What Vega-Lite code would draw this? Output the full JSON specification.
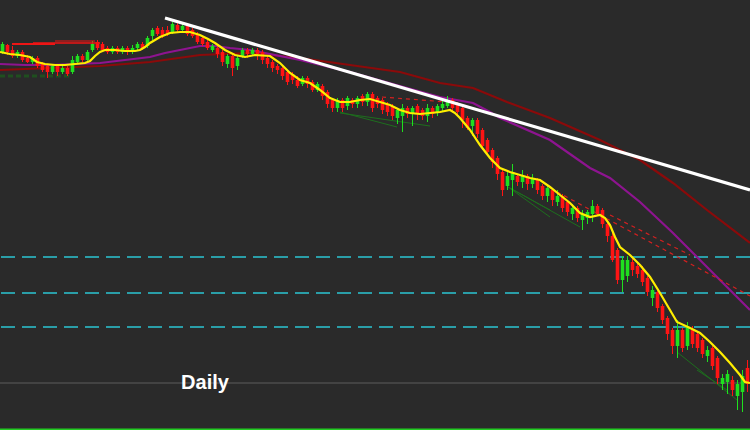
{
"$schema":"https://vega.github.io/schema/vega-lite/v6.json",
"width":750,"height":430,"padding":0,
"autosize":"none",
"background":"#2a2a2a",
"config":{"view":{"stroke":null},"scale":{"continuousPadding":0}},
"datasets":{
"candles":[
{"t":0.5,"o":378,"c":386,"h":388,"l":376},{"t":1.5,"o":385,"c":378,"h":386,"l":375},{"t":2.5,"o":380,"c":374,"h":384,"l":372},{"t":3.5,"o":374,"c":378,"h":380,"l":372},{"t":4.5,"o":378,"c":370,"h":380,"l":368},
{"t":5.5,"o":372,"c":368,"h":375,"l":367},{"t":6.5,"o":368,"c":372,"h":374,"l":366},{"t":7.5,"o":372,"c":364,"h":374,"l":362},{"t":8.5,"o":366,"c":360,"h":368,"l":358},{"t":9.5,"o":364,"c":358,"h":366,"l":352},
{"t":10.5,"o":358,"c":364,"h":366,"l":356},{"t":11.5,"o":364,"c":358,"h":366,"l":354},{"t":12.5,"o":358,"c":362,"h":364,"l":356},{"t":13.5,"o":362,"c":356,"h":364,"l":354},{"t":14.5,"o":358,"c":370,"h":374,"l":356},
{"t":15.5,"o":368,"c":374,"h":376,"l":366},{"t":16.5,"o":374,"c":370,"h":376,"l":368},{"t":17.5,"o":370,"c":378,"h":380,"l":368},{"t":18.5,"o":380,"c":386,"h":389,"l":378},{"t":19.5,"o":388,"c":382,"h":390,"l":380},
{"t":20.5,"o":386,"c":380,"h":388,"l":378},{"t":21.5,"o":382,"c":378,"h":384,"l":376},{"t":22.5,"o":378,"c":382,"h":384,"l":376},{"t":23.5,"o":382,"c":378,"h":384,"l":376},{"t":24.5,"o":378,"c":382,"h":384,"l":376},
{"t":25.5,"o":382,"c":378,"h":384,"l":375},{"t":26.5,"o":378,"c":382,"h":385,"l":376},{"t":27.5,"o":382,"c":386,"h":388,"l":380},{"t":28.5,"o":386,"c":382,"h":388,"l":380},{"t":29.5,"o":384,"c":392,"h":394,"l":382},
{"t":30.5,"o":394,"c":400,"h":402,"l":390},{"t":31.5,"o":402,"c":396,"h":404,"l":394},{"t":32.5,"o":400,"c":394,"h":403,"l":392},{"t":33.5,"o":400,"c":396,"h":404,"l":394},{"t":34.5,"o":398,"c":406,"h":408,"l":396},
{"t":35.5,"o":405,"c":400,"h":408,"l":398},{"t":36.5,"o":400,"c":404,"h":408,"l":398},{"t":37.5,"o":404,"c":396,"h":406,"l":394},{"t":38.5,"o":400,"c":394,"h":402,"l":392},{"t":39.5,"o":396,"c":388,"h":398,"l":386},
{"t":40.5,"o":392,"c":386,"h":394,"l":384},{"t":41.5,"o":388,"c":382,"h":390,"l":380},{"t":42.5,"o":380,"c":384,"h":386,"l":378},{"t":43.5,"o":382,"c":376,"h":384,"l":372},{"t":44.5,"o":378,"c":368,"h":380,"l":364},
{"t":45.5,"o":366,"c":374,"h":376,"l":362},{"t":46.5,"o":374,"c":362,"h":376,"l":354},{"t":47.5,"o":364,"c":372,"h":374,"l":360},{"t":48.5,"o":374,"c":380,"h":382,"l":372},{"t":49.5,"o":380,"c":376,"h":382,"l":372},
{"t":50.5,"o":376,"c":380,"h":382,"l":374},{"t":51.5,"o":380,"c":376,"h":382,"l":370},{"t":52.5,"o":378,"c":370,"h":380,"l":366},{"t":53.5,"o":372,"c":366,"h":374,"l":362},{"t":54.5,"o":368,"c":362,"h":370,"l":358},
{"t":55.5,"o":364,"c":360,"h":366,"l":356},{"t":56.5,"o":362,"c":354,"h":364,"l":350},{"t":57.5,"o":358,"c":348,"h":360,"l":345},{"t":58.5,"o":356,"c":350,"h":358,"l":346},{"t":59.5,"o":350,"c":344,"h":354,"l":342},
{"t":60.5,"o":346,"c":352,"h":354,"l":344},{"t":61.5,"o":352,"c":346,"h":354,"l":342},{"t":62.5,"o":348,"c":340,"h":350,"l":338},{"t":63.5,"o":340,"c":346,"h":348,"l":338},{"t":64.5,"o":344,"c":334,"h":346,"l":330},
{"t":65.5,"o":338,"c":326,"h":340,"l":322},{"t":66.5,"o":330,"c":322,"h":332,"l":318},{"t":67.5,"o":322,"c":330,"h":332,"l":318},{"t":68.5,"o":330,"c":322,"h":332,"l":318},{"t":69.5,"o":324,"c":332,"h":334,"l":320},
{"t":70.5,"o":330,"c":326,"h":332,"l":322},{"t":71.5,"o":326,"c":332,"h":334,"l":322},{"t":72.5,"o":334,"c":328,"h":336,"l":324},{"t":73.5,"o":328,"c":336,"h":338,"l":324},{"t":74.5,"o":336,"c":322,"h":338,"l":318},
{"t":75.5,"o":332,"c":326,"h":334,"l":322},{"t":76.5,"o":330,"c":320,"h":332,"l":316},{"t":77.5,"o":326,"c":318,"h":328,"l":314},{"t":78.5,"o":324,"c":314,"h":326,"l":310},{"t":79.5,"o":312,"c":320,"h":322,"l":306},
{"t":80.5,"o":314,"c":322,"h":326,"l":298},{"t":81.5,"o":322,"c":316,"h":324,"l":312},{"t":82.5,"o":316,"c":322,"h":324,"l":304},{"t":83.5,"o":324,"c":316,"h":326,"l":310},{"t":84.5,"o":320,"c":314,"h":322,"l":310},
{"t":85.5,"o":314,"c":322,"h":326,"l":308},{"t":86.5,"o":322,"c":316,"h":324,"l":312},{"t":87.5,"o":318,"c":324,"h":326,"l":314},{"t":88.5,"o":322,"c":326,"h":330,"l":318},{"t":89.5,"o":324,"c":330,"h":334,"l":322},
{"t":90.5,"o":330,"c":322,"h":332,"l":318},{"t":91.5,"o":326,"c":318,"h":328,"l":314},{"t":92.5,"o":322,"c":310,"h":324,"l":302},{"t":93.5,"o":312,"c":302,"h":314,"l":300},{"t":94.5,"o":304,"c":310,"h":312,"l":294},
{"t":95.5,"o":310,"c":296,"h":312,"l":292},{"t":96.5,"o":300,"c":284,"h":302,"l":280},{"t":97.5,"o":290,"c":278,"h":292,"l":274},{"t":98.5,"o":280,"c":268,"h":282,"l":262},{"t":99.5,"o":272,"c":256,"h":274,"l":250},
{"t":100.5,"o":258,"c":240,"h":260,"l":234},{"t":101.5,"o":244,"c":254,"h":258,"l":240},{"t":102.5,"o":250,"c":258,"h":266,"l":234},{"t":103.5,"o":254,"c":248,"h":256,"l":244},{"t":104.5,"o":248,"c":254,"h":260,"l":242},
{"t":105.5,"o":254,"c":246,"h":256,"l":240},{"t":106.5,"o":246,"c":252,"h":256,"l":242},{"t":107.5,"o":250,"c":240,"h":252,"l":236},{"t":108.5,"o":244,"c":234,"h":246,"l":230},{"t":109.5,"o":234,"c":242,"h":246,"l":228},
{"t":110.5,"o":240,"c":230,"h":242,"l":224},{"t":111.5,"o":228,"c":234,"h":240,"l":224},{"t":112.5,"o":234,"c":222,"h":236,"l":218},{"t":113.5,"o":228,"c":218,"h":230,"l":214},{"t":114.5,"o":216,"c":222,"h":226,"l":210},
{"t":115.5,"o":222,"c":212,"h":224,"l":208},{"t":116.5,"o":210,"c":216,"h":220,"l":200},{"t":117.5,"o":212,"c":218,"h":220,"l":206},{"t":118.5,"o":216,"c":224,"h":230,"l":208},{"t":119.5,"o":224,"c":216,"h":226,"l":214},
{"t":120.5,"o":220,"c":206,"h":222,"l":202},{"t":121.5,"o":206,"c":194,"h":208,"l":188},{"t":122.5,"o":194,"c":170,"h":198,"l":168},{"t":123.5,"o":180,"c":150,"h":182,"l":146},{"t":124.5,"o":150,"c":170,"h":174,"l":138},
{"t":125.5,"o":154,"c":170,"h":174,"l":148},{"t":126.5,"o":168,"c":160,"h":172,"l":154},{"t":127.5,"o":164,"c":156,"h":168,"l":152},{"t":128.5,"o":160,"c":148,"h":164,"l":144},{"t":129.5,"o":152,"c":138,"h":154,"l":134},
{"t":130.5,"o":132,"c":140,"h":144,"l":124},{"t":131.5,"o":138,"c":122,"h":140,"l":118},{"t":132.5,"o":124,"c":110,"h":126,"l":106},{"t":133.5,"o":112,"c":96,"h":114,"l":90},{"t":134.5,"o":100,"c":84,"h":102,"l":76},
{"t":135.5,"o":84,"c":100,"h":110,"l":72},{"t":136.5,"o":100,"c":82,"h":102,"l":78},{"t":137.5,"o":84,"c":104,"h":108,"l":80},{"t":138.5,"o":100,"c":86,"h":104,"l":82},{"t":139.5,"o":96,"c":82,"h":98,"l":78},
{"t":140.5,"o":90,"c":76,"h":92,"l":72},{"t":141.5,"o":74,"c":80,"h":84,"l":68},{"t":142.5,"o":82,"c":64,"h":84,"l":60},{"t":143.5,"o":72,"c":52,"h":74,"l":46},{"t":144.5,"o":46,"c":52,"h":56,"l":40},
{"t":145.5,"o":48,"c":56,"h":60,"l":36},{"t":146.5,"o":50,"c":40,"h":54,"l":34},{"t":147.5,"o":34,"c":46,"h":50,"l":20},{"t":148.5,"o":38,"c":54,"h":60,"l":18},{"t":149.5,"o":62,"c":46,"h":70,"l":38}
],
"yellow":[
{"t":0,"p":378},{"t":2,"p":376},{"t":4,"p":375},{"t":6,"p":373},{"t":7.4,"p":368},{"t":9,"p":366},{"t":11,"p":365},{"t":13,"p":365},{"t":15,"p":366},{"t":17,"p":367},{"t":18,"p":369},{"t":19,"p":374},{"t":20,"p":378},{"t":21,"p":380},{"t":23,"p":380},{"t":25,"p":379},{"t":27,"p":379},{"t":28,"p":380},{"t":29,"p":383},{"t":30,"p":387},{"t":31,"p":390},{"t":32,"p":393},{"t":34,"p":397},{"t":36,"p":398},{"t":38,"p":398},{"t":40,"p":395},{"t":41.6,"p":391},{"t":43,"p":387},{"t":45,"p":380},{"t":47,"p":375},{"t":49,"p":373},{"t":51,"p":375},{"t":54,"p":374},{"t":56,"p":367},{"t":58,"p":357},{"t":60,"p":350},{"t":62,"p":347},{"t":64,"p":340},{"t":66,"p":332},{"t":68,"p":328},{"t":70,"p":328},{"t":72,"p":330},{"t":74,"p":331},{"t":76,"p":328},{"t":78,"p":325},{"t":80,"p":320},{"t":82,"p":317},{"t":84,"p":316},{"t":86,"p":317},{"t":88,"p":318},{"t":90,"p":320},{"t":91,"p":317},{"t":92,"p":312},{"t":94,"p":300},{"t":96,"p":285},{"t":98,"p":272},{"t":100,"p":262},{"t":102,"p":258},{"t":104,"p":255},{"t":106,"p":252},{"t":108,"p":250},{"t":110,"p":243},{"t":112,"p":235},{"t":114,"p":227},{"t":116,"p":217},{"t":118,"p":213},{"t":120,"p":215},{"t":121,"p":212},{"t":122,"p":205},{"t":123,"p":193},{"t":124,"p":183},{"t":126,"p":175},{"t":128,"p":165},{"t":130,"p":153},{"t":132,"p":137},{"t":134,"p":120},{"t":135.4,"p":108},{"t":138,"p":102},{"t":140,"p":97},{"t":142,"p":88},{"t":144,"p":78},{"t":146,"p":67},{"t":148,"p":55},{"t":149,"p":48},{"t":150,"p":47}
],
"purple":[
{"t":0,"p":366},{"t":5,"p":365},{"t":10,"p":365},{"t":15,"p":366},{"t":20,"p":367},{"t":25,"p":370},{"t":30,"p":373},{"t":33,"p":377},{"t":36,"p":380},{"t":40,"p":384},{"t":43,"p":384},{"t":46,"p":382},{"t":50,"p":380},{"t":60,"p":370},{"t":70,"p":358},{"t":80,"p":344},{"t":88,"p":333},{"t":94.6,"p":327},{"t":98,"p":318},{"t":100,"p":312},{"t":110,"p":290},{"t":118,"p":262},{"t":122,"p":252},{"t":128,"p":228},{"t":134.6,"p":197},{"t":139.4,"p":173},{"t":144,"p":150},{"t":150,"p":120}
],
"dred":[
{"t":0,"p":360},{"t":10,"p":362},{"t":20,"p":364},{"t":30,"p":368},{"t":40,"p":375},{"t":50,"p":377},{"t":60,"p":372},{"t":70,"p":365},{"t":80,"p":358},{"t":88,"p":347},{"t":94.6,"p":342},{"t":101.4,"p":328},{"t":110,"p":312},{"t":120,"p":290},{"t":128,"p":270},{"t":134.6,"p":247},{"t":141.4,"p":220},{"t":150,"p":187}
],
"trend":[{"t":33,"p":412},{"t":150,"p":240}],
"levels":[{"p":173},{"p":137},{"p":103}],
"segs":[
{"k":"redtop","t1":2.4,"p1":386,"t2":11,"p2":386,"w":2},
{"k":"redtop","t1":6.6,"p1":387,"t2":20,"p2":387,"w":1.5},
{"k":"redtop","t1":11,"p1":389,"t2":19,"p2":389,"w":1},
{"k":"chan","t1":68,"p1":318,"t2":79.4,"p2":303,"w":1},
{"k":"chan","t1":68,"p1":317,"t2":86,"p2":304,"w":1},
{"k":"chan","t1":101.6,"p1":243,"t2":110,"p2":213,"w":1},
{"k":"chan","t1":102,"p1":242,"t2":116,"p2":203,"w":1},
{"k":"chan","t1":101.6,"p1":243,"t2":110,"p2":220,"w":1},
{"k":"chan","t1":135.4,"p1":78,"t2":147.4,"p2":30,"w":1},
{"k":"chan","t1":139.4,"p1":60,"t2":145.4,"p2":40,"w":1},
{"k":"rdash","t1":76.4,"p1":333,"t2":89.4,"p2":328,"w":1.2},
{"k":"rdash","t1":110,"p1":242,"t2":150,"p2":134,"w":1.2},
{"k":"rdash","t1":122,"p1":215,"t2":138,"p2":175,"w":1.2},
{"k":"gdash","t1":0,"p1":354,"t2":14,"p2":354,"w":3}
],
"label":[{"t":41,"p":47,"txt":"Daily"}]
},
"layer":[
{"data":{"name":"levels"},"mark":{"type":"rule","color":"#2a9ea8","strokeWidth":2,"strokeDash":[14,7]},
 "encoding":{"y":{"field":"p","type":"quantitative","scale":{"domain":[0,430],"nice":false,"zero":false},"axis":null}}},
{"data":{"values":[{"p":47}]},"mark":{"type":"rule","color":"#4c4c4c","strokeWidth":1.5},
 "encoding":{"y":{"field":"p","type":"quantitative","scale":{"domain":[0,430],"nice":false,"zero":false},"axis":null}}},
{"data":{"values":[{"p":0.6}]},"mark":{"type":"rule","color":"#22cc22","strokeWidth":2},
 "encoding":{"y":{"field":"p","type":"quantitative","scale":{"domain":[0,430],"nice":false,"zero":false},"axis":null}}},
{"data":{"name":"dred"},"mark":{"type":"line","color":"#8b0a0a","strokeWidth":2.2,"clip":true},
 "encoding":{"x":{"field":"t","type":"quantitative","scale":{"domain":[0,150],"nice":false,"zero":false,"padding":0},"axis":null},
  "y":{"field":"p","type":"quantitative","scale":{"domain":[0,430],"nice":false,"zero":false},"axis":null}}},
{"data":{"name":"purple"},"mark":{"type":"line","color":"#8e1490","strokeWidth":2.2,"clip":true},
 "encoding":{"x":{"field":"t","type":"quantitative","axis":null},"y":{"field":"p","type":"quantitative","axis":null}}},
{"data":{"name":"segs"},"transform":[{"filter":"datum.k=='chan'"}],"mark":{"type":"rule","color":"#1d6e1d","strokeWidth":1},
 "encoding":{"x":{"field":"t1","type":"quantitative","axis":null},"x2":{"field":"t2"},"y":{"field":"p1","type":"quantitative","axis":null},"y2":{"field":"p2"}}},
{"data":{"name":"segs"},"transform":[{"filter":"datum.k=='rdash'"}],"mark":{"type":"rule","color":"#d42020","strokeWidth":1.2,"strokeDash":[4,4]},
 "encoding":{"x":{"field":"t1","type":"quantitative","axis":null},"x2":{"field":"t2"},"y":{"field":"p1","type":"quantitative","axis":null},"y2":{"field":"p2"}}},
{"data":{"name":"segs"},"transform":[{"filter":"datum.k=='gdash'"}],"mark":{"type":"rule","color":"#1f4f1f","strokeWidth":3,"strokeDash":[5,3]},
 "encoding":{"x":{"field":"t1","type":"quantitative","axis":null},"x2":{"field":"t2"},"y":{"field":"p1","type":"quantitative","axis":null},"y2":{"field":"p2"}}},
{"data":{"name":"candles"},"mark":{"type":"rule","strokeWidth":1},
 "encoding":{"x":{"field":"t","type":"quantitative","axis":null},"y":{"field":"l","type":"quantitative","axis":null},"y2":{"field":"h"},
  "color":{"condition":{"test":"datum.c > datum.o","value":"#1fe01f"},"value":"#ff1414"}}},
{"data":{"name":"candles"},"mark":{"type":"bar","size":3.6},
 "encoding":{"x":{"field":"t","type":"quantitative","axis":null},"y":{"field":"o","type":"quantitative","axis":null},"y2":{"field":"c"},
  "color":{"condition":{"test":"datum.c > datum.o","value":"#1fe01f"},"value":"#ff1414"}}},
{"data":{"name":"segs"},"transform":[{"filter":"datum.k=='redtop'"}],"mark":{"type":"rule","color":"#ee1515"},
 "encoding":{"x":{"field":"t1","type":"quantitative","axis":null},"x2":{"field":"t2"},"y":{"field":"p1","type":"quantitative","axis":null},"y2":{"field":"p2"},
  "strokeWidth":{"field":"w","type":"quantitative","scale":null}}},
{"data":{"name":"yellow"},"mark":{"type":"line","color":"#ffee00","strokeWidth":2.2,"clip":true},
 "encoding":{"x":{"field":"t","type":"quantitative","axis":null},"y":{"field":"p","type":"quantitative","axis":null}}},
{"data":{"name":"trend"},"mark":{"type":"line","color":"#ffffff","strokeWidth":3.2,"clip":true},
 "encoding":{"x":{"field":"t","type":"quantitative","axis":null},"y":{"field":"p","type":"quantitative","axis":null}}},
{"data":{"name":"label"},"mark":{"type":"text","color":"#ffffff","font":"Liberation Sans","fontWeight":"bold","fontSize":20,"align":"center","baseline":"middle"},
 "encoding":{"x":{"field":"t","type":"quantitative","axis":null},"y":{"field":"p","type":"quantitative","axis":null},"text":{"field":"txt"}}}
]
}
